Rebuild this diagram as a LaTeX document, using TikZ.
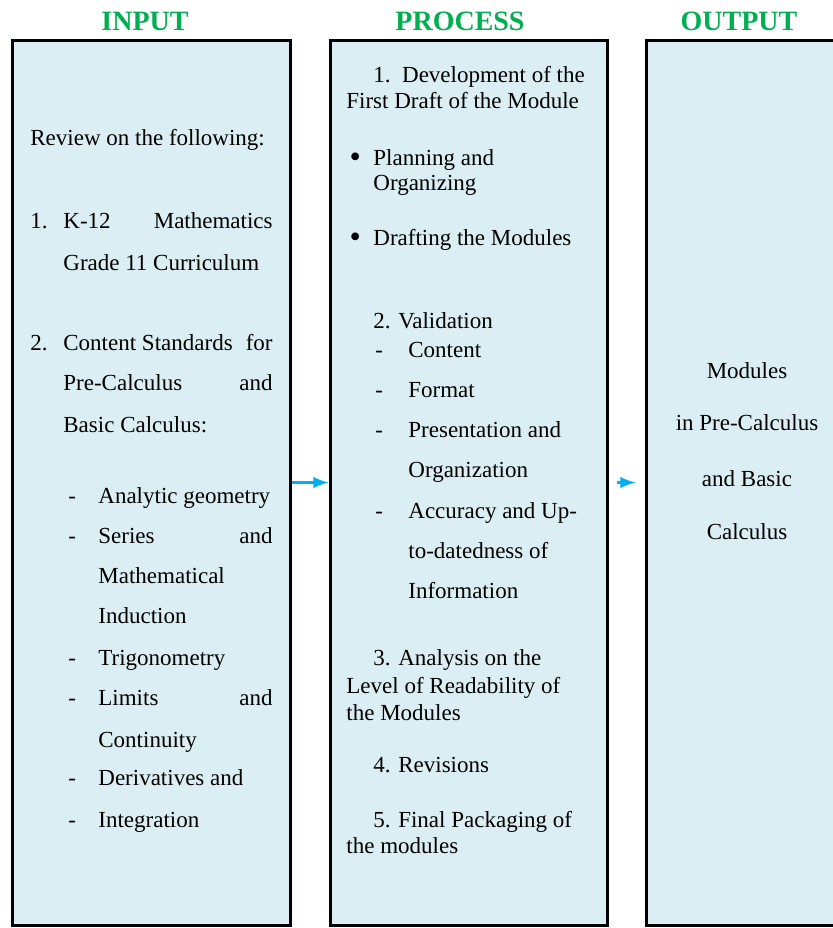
\documentclass[tikz,border=0pt]{standalone}
\usepackage{fontspec}
\setmainfont{Liberation Serif}
\usepackage{tikz}
\usetikzlibrary{arrows,fit}
\definecolor{boxblue}{HTML}{DAEEF3}
\definecolor{headgreen}{HTML}{00B050}
\definecolor{flowblue}{HTML}{00B0F0}
\tikzset{
colbox/.style={draw=black, line width=1.5pt, fill=boxblue, inner sep=0pt},
head/.style={anchor=base, inner sep=0pt, text=headgreen, font=\rmfamily\fontsize{14}{16}\selectfont\bfseries},
txt/.style={anchor=base west, inner sep=0pt, font=\rmfamily\fontsize{11.5}{14}\selectfont},
txtr/.style={txt, anchor=base east},
txtc/.style={txt, anchor=base},
flow/.style={-latex, draw=flowblue, line width=1.6pt}
}
\begin{document}
\begin{tikzpicture}[x=0.5pt,y=-0.5pt]
\clip (0,0) rectangle (833,928);
\fill[white] (0,0) rectangle (833,928);

\node[head] (hIn) at (145,30) {INPUT};
\node[head] (hProc) at (460,30) {PROCESS};
\node[head] (hOut) at (739,30) {OUTPUT};

\node[colbox, fit={(12,40) (290,925)}] (input) {};
\node[colbox, fit={(330,40) (607,925)}] (process) {};
\node[colbox, fit={(646,40) (860,925)}] (output) {};

\draw[flow] (input) -- (process);
\draw[flow] ([xshift=4pt]process.east) -- ([xshift=-4.5pt]output.west);

\node[txt] (review) at (30,145) {Review on the following:};
\node[txt] (n1) at (30,228) {1.};
\node[txt] (k12) at (63,228) {K-12};
\node[txtr] (math) at (273,228) {Mathematics};
\node[txt] (grade) at (63,270) {Grade 11 Curriculum};
\node[txt] (n2) at (30,350) {2.};
\node[txt] (content) at (63,350) {Content Standards};
\node[txtr] (for) at (273,350) {for};
\node[txt] (precalc) at (63,390) {Pre-Calculus};
\node[txtr] (and1) at (273,390) {and};
\node[txt] (basic) at (63,432) {Basic Calculus:};
\foreach \y in {503,543,665,705,785,827}
  \node[txt] (dash-\y) at (68,\y) {-};
\node[txt] (analytic) at (98,503) {Analytic geometry};
\node[txt] (series) at (98,543) {Series};
\node[txtr] (and2) at (273,543) {and};
\node[txt] (mathl) at (98,583) {Mathematical};
\node[txt] (induct) at (98,623) {Induction};
\node[txt] (trig) at (98,665) {Trigonometry};
\node[txt] (limits) at (98,705) {Limits};
\node[txtr] (and3) at (273,705) {and};
\node[txt] (contin) at (98,747) {Continuity};
\node[txt] (deriv) at (98,785) {Derivatives and};
\node[txt] (integ) at (98,827) {Integration};

\node[txt] (dev) at (373,82) {1.\ \ Development of the};
\node[txt] (draft) at (346,108) {First Draft of the Module};
\node[txt, scale=1.4] (bul1) at (349,167) {\textbullet};
\node[txt] (plan) at (373,165) {Planning and};
\node[txt] (organ) at (373,190) {Organizing};
\node[txt, scale=1.4] (bul2) at (349,247) {\textbullet};
\node[txt] (drafting) at (373,245) {Drafting the Modules};
\node[txt] (valid) at (373,328) {2. Validation};
\foreach \y in {357,397,437,518}
  \node[txt] (vdash-\y) at (375,\y) {-};
\node[txt] (vcont) at (408,357) {Content};
\node[txt] (vform) at (408,397) {Format};
\node[txt] (vpres) at (408,437) {Presentation and};
\node[txt] (vorg) at (408,477) {Organization};
\node[txt] (vacc) at (408,518) {Accuracy and Up-};
\node[txt] (vdate) at (408,558) {to-datedness of};
\node[txt] (vinfo) at (408,598) {Information};
\node[txt] (anal) at (373,665) {3. Analysis on the};
\node[txt] (level) at (346,693) {Level of Readability of};
\node[txt] (themod) at (346,720) {the Modules};
\node[txt] (revis) at (373,772) {4. Revisions};
\node[txt] (final) at (373,827) {5. Final Packaging of};
\node[txt] (themod2) at (346,853) {the modules};

\node[txtc] (oMod) at (747,378) {Modules};
\node[txtc] (oPre) at (747,430) {in Pre-Calculus};
\node[txtc] (oBasic) at (747,486) {and Basic};
\node[txtc] (oCalc) at (747,539) {Calculus};
\end{tikzpicture}
\end{document}
